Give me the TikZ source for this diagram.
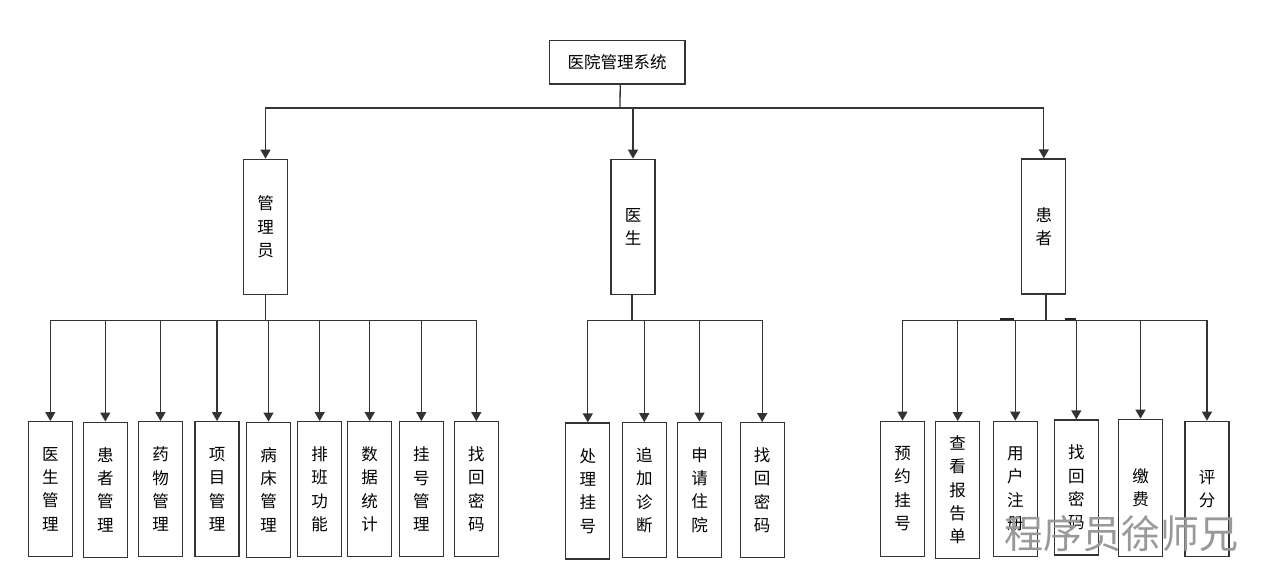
\documentclass[tikz,border=0pt]{standalone}
\usepackage{fontspec}
\newfontfamily\cjk{Noto Sans CJK SC}
\usetikzlibrary{arrows.meta}
\begin{document}
\begin{tikzpicture}[x=1pt,y=-1pt,
  box/.style={draw=black!80, line width=1.3pt, minimum width=44pt, minimum height=135pt, inner sep=0pt, align=center, font=\cjk\fontsize{16.5}{23.3}\selectfont},
  link/.style={draw=black!80, line width=1.3pt},
  arr/.style={link, -{Triangle[width=10pt,length=9pt]}}]
\useasboundingbox[fill=white] (0,0) rectangle (1261,579);
% top
\node[box, minimum width=135.7pt, minimum height=43.3pt] (top) at (617.2,62.4) {医院管理系统};
% level 2
\node[box] (admin) at (265.5,226.8) {管\\理\\员};
\node[box] (doctor) at (633,226.8) {医\\生};
\node[box] (patient) at (1043.8,226.5) {患\\者};
% admin children
\node[box] (a1) at (50.3,489.2) {医\\生\\管\\理};
\node[box] (a2) at (105.3,489.7) {患\\者\\管\\理};
\node[box] (a3) at (160.5,489.2) {药\\物\\管\\理};
\node[box] (a4) at (217,489.2) {项\\目\\管\\理};
\node[box] (a5) at (268.5,489.7) {病\\床\\管\\理};
\node[box] (a6) at (319.7,489.2) {排\\班\\功\\能};
\node[box] (a7) at (369.7,489.2) {数\\据\\统\\计};
\node[box] (a8) at (421.3,489.2) {挂\\号\\管\\理};
\node[box] (a9) at (476.3,489.2) {找\\回\\密\\码};
% doctor children
\node[box, minimum height=136pt] (d1) at (587.8,491) {处\\理\\挂\\号};
\node[box] (d2) at (644.3,490.3) {追\\加\\诊\\断};
\node[box] (d3) at (699.5,489.8) {申\\请\\住\\院};
\node[box] (d4) at (762.2,490.3) {找\\回\\密\\码};
% patient children
\node[box] (p1) at (902.5,488.7) {预\\约\\挂\\号};
\node[box, minimum height=136.6pt] (p2) at (957.7,490) {查\\看\\报\\告\\单};
\node[box] (p3) at (1015.3,488.8) {用\\户\\注\\册};
\node[box] (p4) at (1076.3,487.5) {找\\回\\密\\码};
\node[box, minimum height=137.4pt] (p5) at (1140.5,488) {缴\\费};
\node[box] (p6) at (1207,488.8) {评\\分};
% connectors top
\coordinate (tbus) at (620,108);
\draw[link] ([xshift=3pt]top.south) -- (tbus);
\draw[arr] (tbus) -| (admin.north);
\draw[arr] (tbus) -| (doctor.north);
\draw[arr] (tbus) -| (patient.north);
% admin bus
\coordinate (abus) at (265.5,320.7);
\draw[link] (admin.south) -- (abus);
\foreach \i in {1,...,9} {\draw[arr] (abus) -| (a\i.north);}
% doctor bus
\coordinate (dbus) at (632,320.7);
\draw[link] ([xshift=-1pt]doctor.south) -- (dbus);
\foreach \i in {1,...,4} {\draw[arr] (dbus) -| (d\i.north);}
% patient bus
\coordinate (pbus) at (1046,320.7);
\draw[link] ([xshift=2.2pt]patient.south) -- (pbus);
\foreach \i in {1,...,6} {\draw[arr] (pbus) -| (p\i.north);}
% small tick artifacts
\coordinate (t1a) at (1000,319.3); \coordinate (t1b) at (1014,319.3);
\coordinate (t2a) at (1065,319.3); \coordinate (t2b) at (1076,319.3);
\draw[black!85, line width=2pt] (t1a) -- (t1b);
\draw[black!85, line width=2pt] (t2a) -- (t2b);
% watermark
\node[text=black!40, font=\cjk\fontsize{39}{39}\selectfont, inner sep=0pt] (wm) at (1121.5,534) {程序员徐师兄};
\end{tikzpicture}
\end{document}
